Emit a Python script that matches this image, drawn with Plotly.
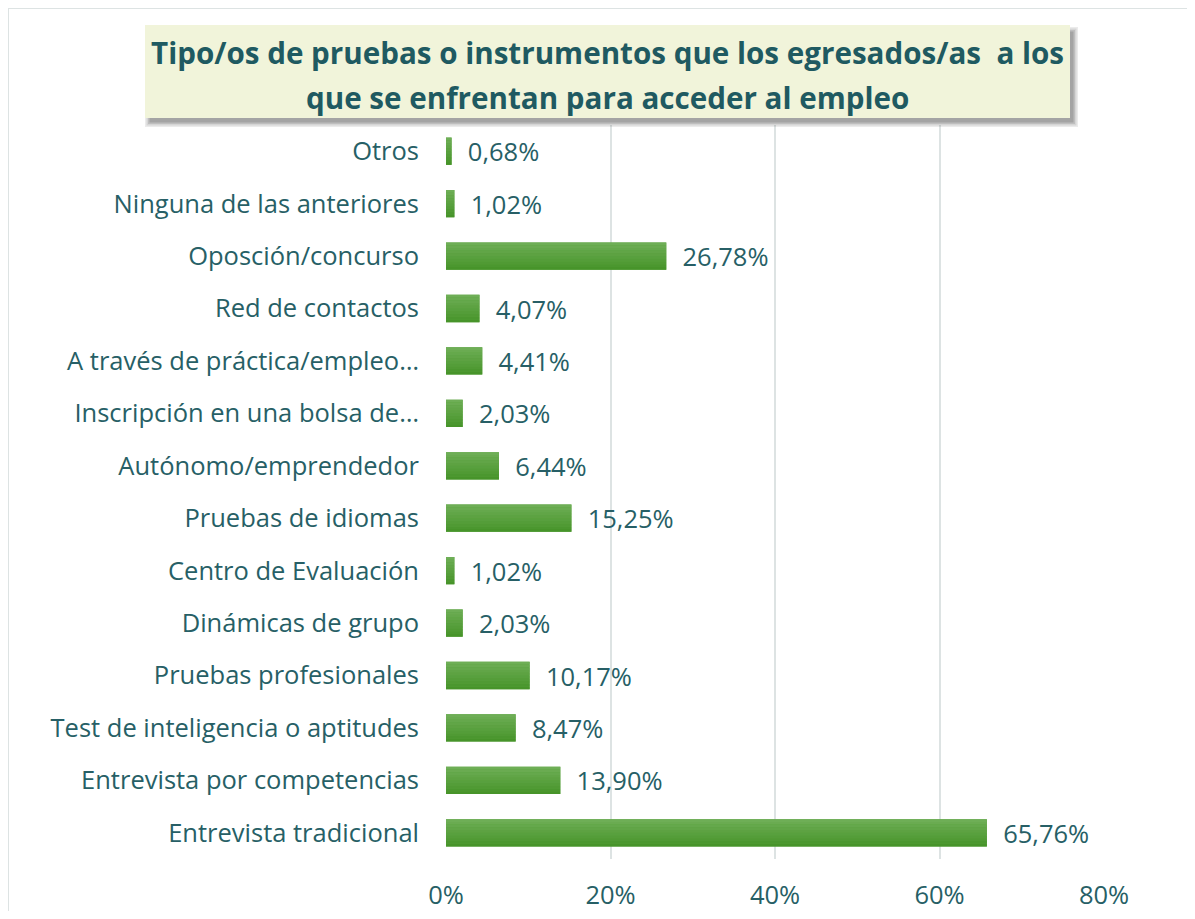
import plotly.graph_objects as go

categories = [
    "Entrevista tradicional",
    "Entrevista por competencias",
    "Test de inteligencia o aptitudes",
    "Pruebas profesionales",
    "Dinámicas de grupo",
    "Centro de Evaluación",
    "Pruebas de idiomas",
    "Autónomo/emprendedor",
    "Inscripción en una bolsa de…",
    "A través de práctica/empleo…",
    "Red de contactos",
    "Oposción/concurso",
    "Ninguna de las anteriores",
    "Otros",
]
values = [65.76, 13.90, 8.47, 10.17, 2.03, 1.02, 15.25, 6.44, 2.03, 4.41, 4.07, 26.78, 1.02, 0.68]
tick_vals = [0, 20, 40, 60, 80]
tick_text = ["0%", "20%", "40%", "60%", "80%"]
title_lines = ["Tipo/os de pruebas o instrumentos que los egresados/as  a los",
               "que se enfrentan para acceder al empleo"]

labels = ["\u00a0\u00a0" + f"{v:.2f}".replace(".", ",") + "%" for v in values]

TEAL = "#275f66"
TITLE_C = "#1f5a61"
FONT = "Open Sans"
FS = 25.5

W, H = 1179, 903
PL, PR, PT, PB = 438, 1096, 117, 851  # plot area in paper pixels


def px(x):
    return (x - PL) / (PR - PL)


def py(y):
    return (PB - y) / (PB - PT)


fig = go.Figure()

BAR_W = 0.52
fig.add_trace(go.Bar(
    y=categories, x=values, orientation="h", width=BAR_W,
    marker=dict(color="#57a03a", line=dict(width=0)),
    text=labels, textposition="outside", cliponaxis=False, constraintext="none",
    textfont=dict(family=FONT, size=FS, color=TEAL),
    hoverinfo="skip", showlegend=False,
))

# gradient strips (dark bottom -> light top)
n = 10
dark = (0x47, 0x94, 0x2a)
light = (0x6e, 0xae, 0x56)
for i in range(n):
    t = i / (n - 1)
    c = tuple(round(dark[k] + (light[k] - dark[k]) * t) for k in range(3))
    fig.add_trace(go.Bar(
        y=categories, x=values, orientation="h",
        width=BAR_W / n, offset=-BAR_W / 2 + i * BAR_W / n,
        marker=dict(color="rgb(%d,%d,%d)" % c, line=dict(width=0)),
        hoverinfo="skip", showlegend=False,
    ))

shapes = []
# outer border (left & top)
shapes.append(dict(type="line", xref="paper", yref="paper",
                   x0=px(0), x1=px(0), y0=py(0), y1=py(H + 20),
                   line=dict(color="#dde3e3", width=2)))
shapes.append(dict(type="line", xref="paper", yref="paper",
                   x0=px(0), x1=px(W + 20), y0=py(0), y1=py(0),
                   line=dict(color="#dde3e3", width=2)))

# title box shadow
bx0, bx1, by0, by1 = 137, 1062, 17, 110
for k, op in enumerate([0.10, 0.12, 0.15, 0.2]):
    d = 7 - k * 1.5
    shapes.append(dict(type="rect", xref="paper", yref="paper",
                       x0=px(bx0 + 4 - d + 3), x1=px(bx1 + 1 + d),
                       y0=py(by1 + 2 + d), y1=py(by0 + 6 - d + 3),
                       fillcolor="rgba(60,60,60,%.2f)" % op, line=dict(width=0), layer="above"))
shapes.append(dict(type="rect", xref="paper", yref="paper",
                   x0=px(bx0), x1=px(bx1), y0=py(by1), y1=py(by0),
                   fillcolor="#f1f4da", line=dict(width=0), layer="above"))
fig.update_layout(shapes=shapes)

annotations = []
for i, line in enumerate(title_lines):
    annotations.append(dict(
        xref="paper", yref="paper", x=px(599), y=py(44 + i * 45),
        text="<b>" + line + "</b>", showarrow=False, xanchor="center", yanchor="middle",
        font=dict(family=FONT, size=29.6, color=TITLE_C),
    ))
fig.update_layout(annotations=annotations)

fig.update_layout(
    width=W, height=H,
    margin=dict(l=PL, r=W - PR, t=PT, b=H - PB, pad=0, autoexpand=False),
    paper_bgcolor="white", plot_bgcolor="white",
    barmode="overlay", bargap=0.48,
    font=dict(family=FONT, size=FS, color=TEAL),
    xaxis=dict(range=[0, 80], tickvals=tick_vals, ticktext=tick_text, automargin=False,
               showgrid=True, gridcolor="#dde3e3", gridwidth=2, zeroline=False,
               showline=False, ticks="", ticklabelstandoff=18,
               tickfont=dict(family=FONT, size=FS, color=TEAL), fixedrange=True),
    yaxis=dict(categoryorder="array", categoryarray=categories, automargin=False,
               showgrid=False, zeroline=False, showline=False, ticks="",
               ticklabelstandoff=26,
               tickfont=dict(family=FONT, size=FS, color=TEAL), fixedrange=True),
)

fig.write_html("out.html")
